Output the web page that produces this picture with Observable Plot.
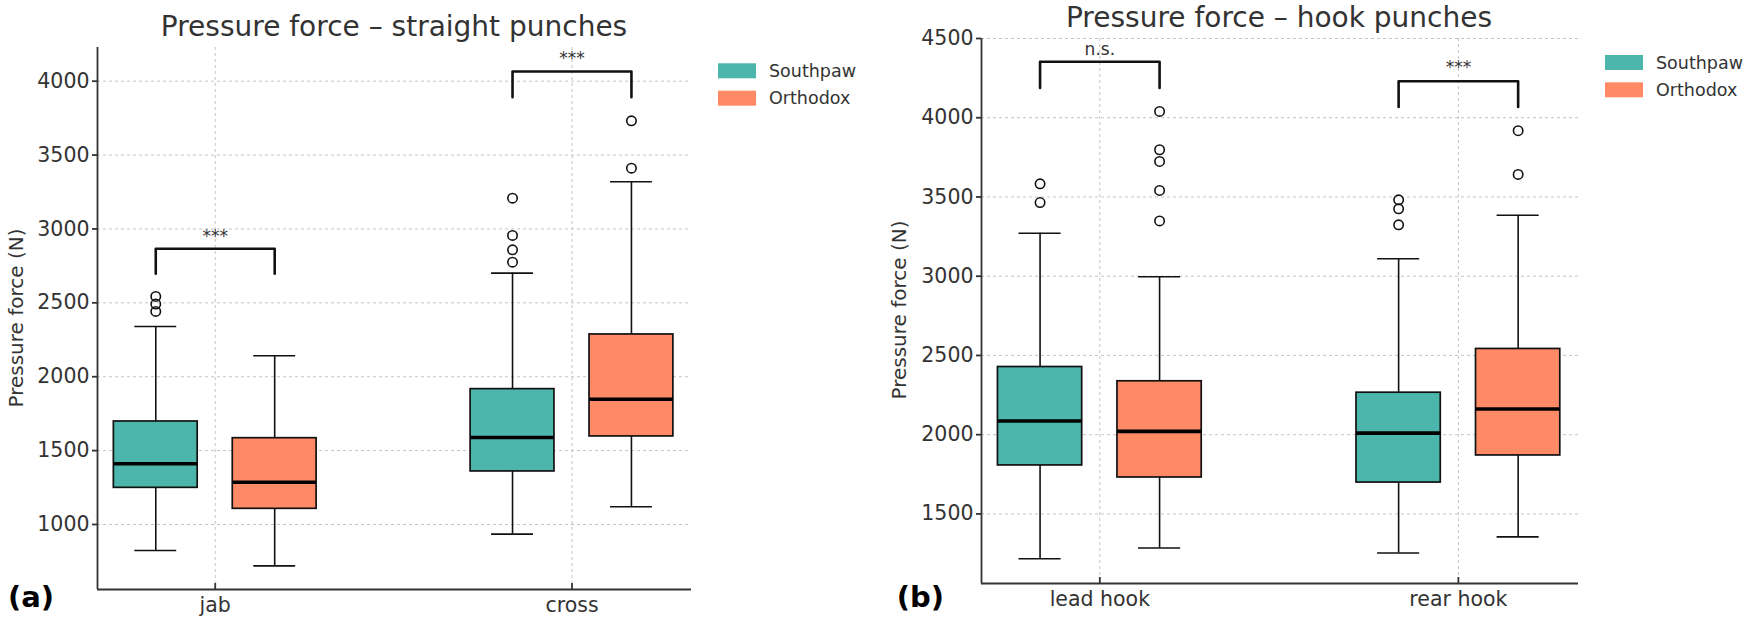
<!DOCTYPE html>
<html><head><meta charset="utf-8">
<script src="https://cdn.jsdelivr.net/npm/d3@7"></script>
<script src="https://cdn.jsdelivr.net/npm/@observablehq/plot@0.6"></script>
<style>
body{margin:0;background:#fff;}
#wrap{position:relative;width:1750px;height:624px;overflow:hidden;font-family:"DejaVu Sans",sans-serif;background:#fff;}
.panel{position:absolute;top:0;}
#overlay{position:absolute;left:0;top:0;pointer-events:none;}
</style></head><body><div id="wrap"></div>
<script>
const groups = ["Southpaw", "Orthodox"];
const colors = ["#4DB6AC", "#FF8A65"];
const straightCats = ["jab", "cross"];
const hookCats = ["lead hook", "rear hook"];
// [lower whisker, Q1, median, Q3, upper whisker] per category
const straightSouthpaw = [[824, 1248, 1411, 1697, 2340], [935, 1359, 1589, 1916, 2701]];
const straightOrthodox = [[720, 1106, 1286, 1584, 2142], [1120, 1596, 1848, 2286, 3319]];
const straightSouthpawOut = [[2543, 2492, 2442], [3208, 2956, 2859, 2775]];
const straightOrthodoxOut = [[], [3732, 3411]];
const hookSouthpaw = [[1217, 1806, 2086, 2427, 3271], [1253, 1698, 2010, 2265, 3110]];
const hookOrthodox = [[1285, 1730, 2021, 2337, 2997], [1355, 1869, 2162, 2541, 3385]];
const hookSouthpawOut = [[3583, 3465], [3482, 3425, 3324]];
const hookOrthodoxOut = [[4040, 3798, 3724, 3541, 3349], [3918, 3642]];
// significance brackets: [leg end, bracket top, label]
const straightSig = [[2697, 2866, 2947], [3892, 4066, 4154]];
const straightSigLabels = ["***", "***"];
const hookSig = [[4188, 4353, 4433], [4068, 4230, 4317]];
const hookSigLabels = ["n.s.", "***"];
const straightTicks = [1000, 1500, 2000, 2500, 3000, 3500, 4000];
const hookTicks = [1500, 2000, 2500, 3000, 3500, 4000, 4500];
const straightDomain = [560, 4228];
const hookDomain = [1061, 4500];
const xDomain = [-0.33, 1.335];

const OFF = 1 / 6, HW = 0.1175, CW = 0.0587;

function build(cats, sp, or, spOut, orOut, sig, sigLabels) {
  const boxes = [], outs = [], pts = [], labels = [];
  cats.forEach((c, i) => {
    [sp, or].forEach((arr, g) => {
      const s = arr[i];
      const pos = i + (g === 0 ? -OFF : OFF);
      boxes.push({cat: c, group: groups[g], pos, lo: s[0], q1: s[1], med: s[2], q3: s[3], hi: s[4]});
      const o = (g === 0 ? spOut : orOut)[i];
      o.forEach(v => outs.push({pos, value: v, group: groups[g]}));
    });
    const [leg, top, ly] = sig[i];
    pts.push({id: i, x: i - OFF, y: leg}, {id: i, x: i - OFF, y: top}, {id: i, x: i + OFF, y: top}, {id: i, x: i + OFF, y: leg});
    labels.push({x: i, y: ly, text: sigLabels[i]});
  });
  return {boxes, outs, pts, labels};
}

function panel(cats, d, ticks, domain, m) {
  const ink = "#111";
  return Plot.plot({
    width: 875, height: 624,
    marginLeft: m[0], marginRight: m[1], marginTop: m[2], marginBottom: m[3],
    style: {fontFamily: "DejaVu Sans", fontSize: "20.5px", color: "#333", background: "transparent", overflow: "visible"},
    x: {domain: xDomain},
    y: {domain},
    color: {domain: groups, range: colors},
    marks: [
      Plot.gridY(ticks, {stroke: "#c4c4c4", strokeOpacity: 1, strokeDasharray: "3,3", strokeWidth: 1}),
      Plot.gridX([0, 1], {stroke: "#c4c4c4", strokeOpacity: 1, strokeDasharray: "3,3", strokeWidth: 1}),
      Plot.axisY(ticks, {tickSize: 5, tickPadding: 3, tickFormat: "d", label: null, strokeWidth: 1.8, stroke: "#333"}),
      Plot.axisX([0, 1], {tickFormat: i => cats[i], tickSize: -6, tickPadding: 14, label: null, strokeWidth: 1.8, stroke: "#333"}),
      Plot.ruleX([xDomain[0]], {stroke: "#333", strokeWidth: 1.8}),
      Plot.ruleY([domain[0]], {stroke: "#333", strokeWidth: 1.8}),
      Plot.ruleX(d.boxes, {x: "pos", y1: "q3", y2: "hi", stroke: ink, strokeWidth: 1.6}),
      Plot.ruleX(d.boxes, {x: "pos", y1: "lo", y2: "q1", stroke: ink, strokeWidth: 1.6}),
      Plot.ruleY(d.boxes, {y: "hi", x1: b => b.pos - CW, x2: b => b.pos + CW, stroke: ink, strokeWidth: 1.6}),
      Plot.ruleY(d.boxes, {y: "lo", x1: b => b.pos - CW, x2: b => b.pos + CW, stroke: ink, strokeWidth: 1.6}),
      Plot.rect(d.boxes, {x1: b => b.pos - HW, x2: b => b.pos + HW, y1: "q1", y2: "q3", fill: "group", stroke: ink, strokeWidth: 1.7}),
      Plot.ruleY(d.boxes, {y: "med", x1: b => b.pos - HW, x2: b => b.pos + HW, stroke: "#000", strokeWidth: 3.6}),
      Plot.dot(d.outs, {x: "pos", y: "value", r: 4.7, stroke: ink, strokeWidth: 1.6, fill: "none"}),
      Plot.line(d.pts, {x: "x", y: "y", z: "id", stroke: ink, strokeWidth: 2.6, curve: "linear"}),
      Plot.text(d.labels, {x: "x", y: "y", text: "text", fontSize: 17, fill: "#333"})
    ]
  });
}

const wrap = document.getElementById("wrap");
const dA = build(straightCats, straightSouthpaw, straightOrthodox, straightSouthpawOut, straightOrthodoxOut, straightSig, straightSigLabels);
const dB = build(hookCats, hookSouthpaw, hookOrthodox, hookSouthpawOut, hookOrthodoxOut, hookSig, hookSigLabels);
const pA = panel(straightCats, dA, straightTicks, straightDomain, [97, 184, 47, 35]);
const pB = panel(hookCats, dB, hookTicks, hookDomain, [106, 172, 38, 41]);
pA.classList.add("panel"); pA.style.left = "0px";
pB.classList.add("panel"); pB.style.left = "875px";
wrap.appendChild(pA); wrap.appendChild(pB);

// overlay: titles, axis labels, legends, panel letters
const svg = d3.select(wrap).append("svg").attr("id", "overlay").attr("width", 1750).attr("height", 624)
  .style("font-family", "'DejaVu Sans', sans-serif");
const titles = [["Pressure force – straight punches", 394, 36], ["Pressure force – hook punches", 1279, 27]];
titles.forEach(([t, x, y]) => svg.append("text").attr("x", x).attr("y", y).attr("text-anchor", "middle")
  .attr("font-size", 28).attr("fill", "#333").text(t));
[[16, 318], [898.5, 310]].forEach(([x, y]) => svg.append("text").attr("transform", `translate(${x},${y}) rotate(-90)`)
  .attr("text-anchor", "middle").attr("dominant-baseline", "central").attr("font-size", 20).attr("fill", "#333").text("Pressure force (N)"));
const legends = [[718, 63.3, 27.4], [1605, 55, 27.3]];
legends.forEach(([x, y, step]) => {
  groups.forEach((g, i) => {
    svg.append("rect").attr("x", x).attr("y", y + i * step).attr("width", 38).attr("height", 15).attr("fill", colors[i]);
    svg.append("text").attr("x", x + 51).attr("y", y + i * step + 7.5).attr("dominant-baseline", "central")
      .attr("font-size", 17.5).attr("fill", "#333").text(g);
  });
});
[["(a)", 8], ["(b)", 896.7]].forEach(([t, x]) => svg.append("text").attr("x", x).attr("y", 607)
  .attr("font-size", 29).attr("font-weight", "bold").attr("fill", "#000").text(t));
</script></body></html>
